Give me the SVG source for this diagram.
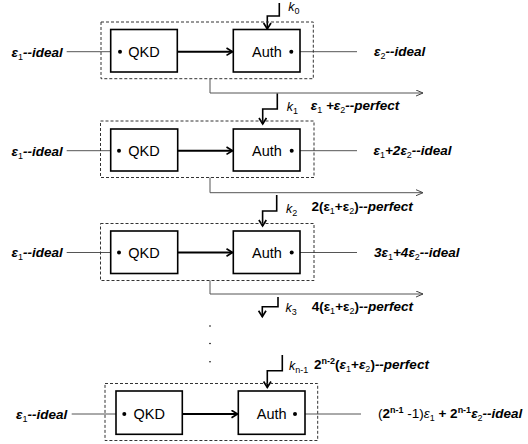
<svg xmlns="http://www.w3.org/2000/svg" width="528" height="444" viewBox="0 0 528 444">
<style>
text{font-family:"Liberation Sans",Arial,sans-serif;fill:#000}
.box{fill:#fff;stroke:#000;stroke-width:1.6}
.dash{fill:none;stroke:#333;stroke-width:1;stroke-dasharray:3 2}
.thin{fill:none;stroke:#555;stroke-width:1}
.thick{fill:none;stroke:#000;stroke-width:2}
.kin{fill:none;stroke:#000;stroke-width:1.6}
.dot{fill:#000}
.nm{font-size:14.5px;text-anchor:middle}
.lb{font-size:13.5px;font-weight:bold;font-style:italic}
.sb{font-size:9px;font-weight:normal;font-style:normal}
.k{font-size:12.5px;font-style:italic}
.ks{font-size:9px;font-style:normal}
.up{font-style:normal}
.rg{font-weight:normal;font-style:normal}
.sp{font-size:9px}
</style>
<defs>
<marker id="ah" markerUnits="userSpaceOnUse" markerWidth="12" markerHeight="12" refX="7" refY="4.5" orient="auto">
<path d="M1,0.8 L7,4.5 L1,8.2" fill="none" stroke="#000" stroke-width="1.7"/>
</marker>
<marker id="ta" markerUnits="userSpaceOnUse" markerWidth="10" markerHeight="10" refX="7" refY="3.5" orient="auto">
<path d="M0,0.5 L7,3.5 L0,6.5" fill="none" stroke="#444" stroke-width="1"/>
</marker>
</defs>

<g id="connectors">
<path class="thin" d="M66.7,51.7 H120"/>
<path class="thin" d="M66.7,150.7 H119"/>
<path class="thin" d="M66.7,252.5 H119"/>
<path class="thin" d="M71.7,414 H124.3"/>
<path class="thin" d="M291.3,51.7 H357"/>
<path class="thin" d="M291.7,150.7 H357"/>
<path class="thin" d="M291.7,252.5 H357"/>
<path class="thin" d="M295,414 H361"/>
<path class="thick" d="M177.3,51.7 H232.5" marker-end="url(#ah)"/>
<path class="thick" d="M177.5,150.7 H232.5" marker-end="url(#ah)"/>
<path class="thick" d="M177.5,252.5 H232.5" marker-end="url(#ah)"/>
<path class="thick" d="M182.3,414 H237.5" marker-end="url(#ah)"/>
<path class="thin" d="M210,79 V93 H423" marker-end="url(#ta)"/>
<path class="thin" d="M210,177.5 V192.7 H423" marker-end="url(#ta)"/>
<path class="thin" d="M210,280.5 V294 H423" marker-end="url(#ta)"/>
<path class="kin" d="M279.3,3 V16 H267.3 V29" marker-end="url(#ah)"/>
<path class="kin" d="M277.3,93.5 V109 H262.7 V124" marker-end="url(#ah)"/>
<path class="kin" d="M276.7,195 V211 H262.6 V226" marker-end="url(#ah)"/>
<path class="kin" d="M278,297 V306.7 H262.3 V316.7" marker-end="url(#ah)"/>
<path class="kin" d="M282.3,355 V370.7 H267.3 V387.5" marker-end="url(#ah)"/>
</g>

<g id="block1">
<rect class="dash" x="101" y="22" width="212.3" height="56.7"/>
<rect class="box" x="110.7" y="29.5" width="66.6" height="42.5"/>
<rect class="box" x="233.3" y="29.5" width="66.7" height="42.5"/>
<text class="nm" x="144" y="57">QKD</text>
<text class="nm" x="267" y="57">Auth</text>
<circle class="dot" cx="120" cy="51.7" r="2"/>
<circle class="dot" cx="291.3" cy="51.7" r="2"/>
</g>

<g id="block2">
<rect class="dash" x="100.5" y="121" width="213.5" height="56.5"/>
<rect class="box" x="110.7" y="129" width="67" height="42"/>
<rect class="box" x="233.3" y="129" width="66.7" height="42"/>
<text class="nm" x="144" y="156">QKD</text>
<text class="nm" x="267" y="156">Auth</text>
<circle class="dot" cx="119" cy="150.7" r="2"/>
<circle class="dot" cx="291.7" cy="150.7" r="2"/>
</g>

<g id="block3">
<rect class="dash" x="100.5" y="223.5" width="213.5" height="57"/>
<rect class="box" x="110.7" y="231" width="67" height="42.5"/>
<rect class="box" x="233.3" y="231" width="66.7" height="42.5"/>
<text class="nm" x="144" y="257.8">QKD</text>
<text class="nm" x="267" y="257.8">Auth</text>
<circle class="dot" cx="119" cy="252.5" r="2"/>
<circle class="dot" cx="291.7" cy="252.5" r="2"/>
</g>

<g id="dots">
<circle class="dot" cx="210" cy="326" r="0.8"/>
<circle class="dot" cx="210" cy="343.5" r="0.8"/>
<circle class="dot" cx="210" cy="361.7" r="0.8"/>
</g>

<g id="block4">
<rect class="dash" x="105" y="383.5" width="212.7" height="57"/>
<rect class="box" x="116" y="391" width="66.3" height="43.3"/>
<rect class="box" x="238.3" y="391" width="66.7" height="43.3"/>
<text class="nm" x="149.2" y="419.3">QKD</text>
<text class="nm" x="271.7" y="419.3">Auth</text>
<circle class="dot" cx="124.3" cy="414" r="2"/>
<circle class="dot" cx="295" cy="414" r="2"/>
</g>

<g id="labels">
<text class="lb" x="62.7" y="56.5" text-anchor="end">ε<tspan class="sb" dy="3">1</tspan><tspan dy="-3">--ideal</tspan></text>
<text class="lb" x="62.7" y="155.5" text-anchor="end">ε<tspan class="sb" dy="3">1</tspan><tspan dy="-3">--ideal</tspan></text>
<text class="lb" x="62.7" y="257.3" text-anchor="end">ε<tspan class="sb" dy="3">1</tspan><tspan dy="-3">--ideal</tspan></text>
<text class="lb" x="67.3" y="418.5" text-anchor="end">ε<tspan class="sb" dy="3">1</tspan><tspan dy="-3">--ideal</tspan></text>

<text class="lb" x="374" y="56">ε<tspan class="sb" dy="3">2</tspan><tspan dy="-3">--ideal</tspan></text>
<text class="lb" x="373.5" y="155">ε<tspan class="sb" dy="3">1</tspan><tspan dy="-3">+2ε</tspan><tspan class="sb" dy="3">2</tspan><tspan dy="-3">--ideal</tspan></text>
<text class="lb" x="374" y="257">3ε<tspan class="sb" dy="3">1</tspan><tspan dy="-3">+4ε</tspan><tspan class="sb" dy="3">2</tspan><tspan dy="-3">--ideal</tspan></text>
<text class="lb" x="378" y="418"><tspan class="rg">(</tspan><tspan class="up">2</tspan><tspan class="sp up" dy="-5">n-1</tspan><tspan class="rg" dy="5"> -1)</tspan><tspan font-weight="normal">ε</tspan><tspan class="sb" dy="3">1</tspan><tspan class="up" dy="-3"> + 2</tspan><tspan class="sp up" dy="-5">n-1</tspan><tspan dy="5">ε</tspan><tspan class="sb" dy="3">2</tspan><tspan dy="-3">--ideal</tspan></text>

<text class="k" x="288.3" y="10.5">k<tspan class="ks" dy="3.5">0</tspan></text>
<text class="k" x="286.7" y="110.5">k<tspan class="ks" dy="3">1</tspan></text>
<text class="k" x="286" y="213">k<tspan class="ks" dy="3">2</tspan></text>
<text class="k" x="285.5" y="312">k<tspan class="ks" dy="3">3</tspan></text>
<text class="k" x="289" y="370">k<tspan class="ks" dy="3">n-1</tspan></text>

<text class="lb" x="310.7" y="109.5">ε<tspan class="sb" dy="3">1</tspan><tspan dy="-3"> +ε</tspan><tspan class="sb" dy="3">2</tspan><tspan dy="-3">--perfect</tspan></text>
<text class="lb" x="311.4" y="211"><tspan class="up">2(ε</tspan><tspan class="sb" dy="3">1</tspan><tspan class="up" dy="-3">+ε</tspan><tspan class="sb" dy="3">2</tspan><tspan class="up" dy="-3">)</tspan>--perfect</text>
<text class="lb" x="311.7" y="311"><tspan class="up">4(ε</tspan><tspan class="sb" dy="3">1</tspan><tspan class="up" dy="-3">+ε</tspan><tspan class="sb" dy="3">2</tspan><tspan class="up" dy="-3">)</tspan>--perfect</text>
<text class="lb" x="314" y="369"><tspan class="up">2</tspan><tspan class="sp up" dy="-5">n-2</tspan><tspan class="up" dy="5">(</tspan>ε<tspan class="sb" dy="3">1</tspan><tspan class="up" dy="-3">+</tspan>ε<tspan class="sb" dy="3">2</tspan><tspan class="up" dy="-3">)</tspan>--perfect</text>
</g>
</svg>
